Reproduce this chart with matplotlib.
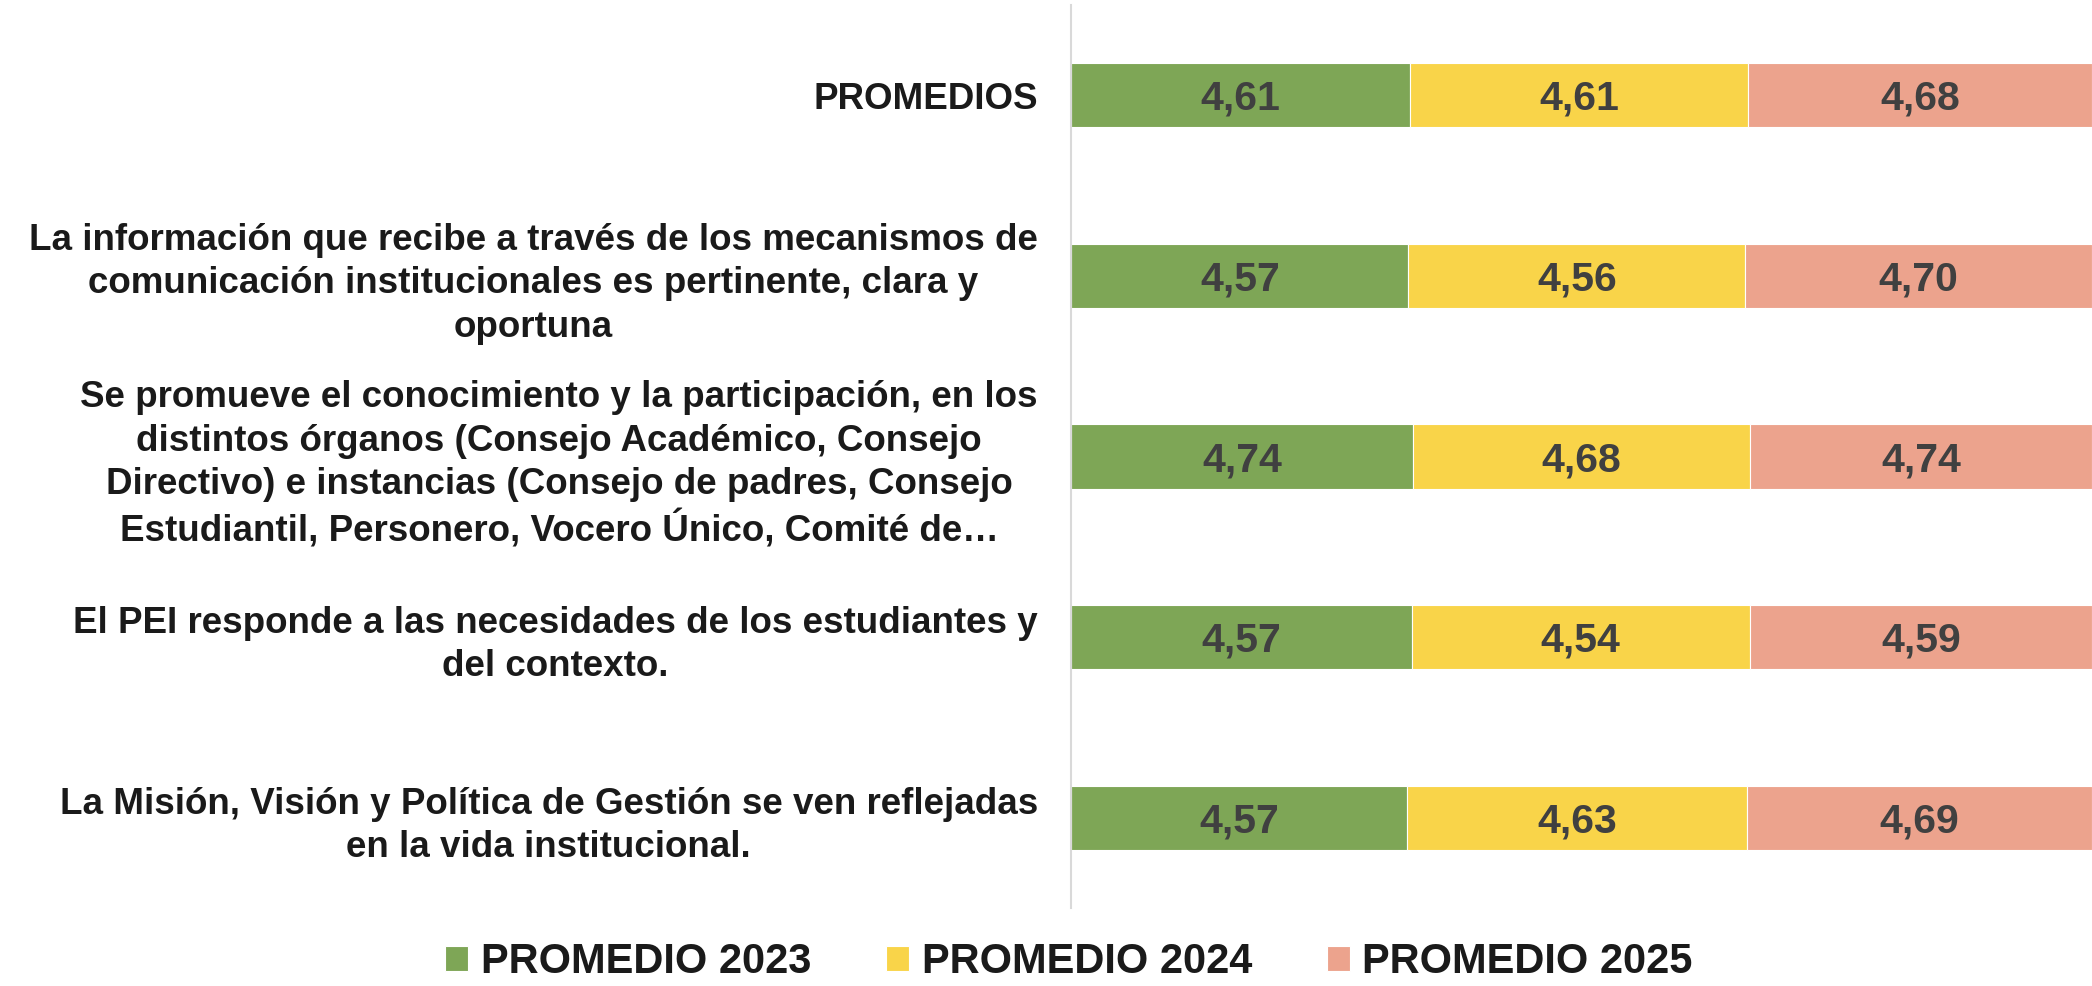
import matplotlib.pyplot as plt
import numpy as np

# Datos
preguntas = [
    "PROMEDIOS",
    "La información que recibe a través de los mecanismos de\ncomunicación institucionales es pertinente, clara y\noportuna",
    "Se promueve el conocimiento y la participación, en los\ndistintos órganos (Consejo Académico, Consejo\nDirectivo) e instancias (Consejo de padres, Consejo\nEstudiantil, Personero, Vocero Único, Comité de…",
    "El PEI responde a las necesidades de los estudiantes y\ndel contexto.",
    "La Misión, Visión y Política de Gestión se ven reflejadas\nen la vida institucional.",
]
series = ["PROMEDIO 2023", "PROMEDIO 2024", "PROMEDIO 2025"]
prom_2023 = [4.61, 4.57, 4.74, 4.57, 4.57]
prom_2024 = [4.61, 4.56, 4.68, 4.54, 4.63]
prom_2025 = [4.68, 4.70, 4.74, 4.59, 4.69]
colores = ["#7EA656", "#F9D449", "#ECA38D"]

plt.rcParams["font.family"] = ["Liberation Sans", "DejaVu Sans"]

fig = plt.figure(figsize=(20.92, 9.86), dpi=100)
ax = fig.add_axes([0.512, 0.079, 0.488, 0.916])

# Barras apiladas al 100%
datos = np.array([prom_2023, prom_2024, prom_2025])
totales = datos.sum(axis=0)
y = np.arange(len(preguntas))
izq = np.zeros(len(preguntas))
for i, nombre in enumerate(series):
    ancho = datos[i] / totales
    ax.barh(y, ancho, left=izq, height=0.355, color=colores[i], label=nombre,
            edgecolor="white", linewidth=0.8)
    for j in range(len(preguntas)):
        ax.text(izq[j] + ancho[j] / 2, y[j] + 0.02, f"{datos[i][j]:.2f}".replace(".", ","),
                ha="center", va="center", fontsize=29.5, fontweight="bold", color="#404040")
    izq += ancho

ax.set_xlim(0, 1)
ax.set_ylim(len(preguntas) - 0.5, -0.5)
ax.set_yticks(y)
ax.set_yticklabels(preguntas, fontsize=26.5, fontweight="bold", color="#1A1A1A",
                   multialignment="center", linespacing=1.3)
ax.tick_params(axis="y", length=0, pad=24)
ax.set_xticks([])
for lado in ["top", "right", "bottom"]:
    ax.spines[lado].set_visible(False)
ax.spines["left"].set_color("#D9D9D9")
ax.spines["left"].set_linewidth(1.5)

fig.legend(loc="lower center", bbox_to_anchor=(0.511, -0.034), ncol=3, frameon=False,
           prop={"size": 30, "weight": "bold"}, handlelength=0.55, handleheight=0.55,
           handletextpad=0.3, columnspacing=1.8, labelcolor="#1A1A1A")

fig.savefig("out.png", dpi=100)
